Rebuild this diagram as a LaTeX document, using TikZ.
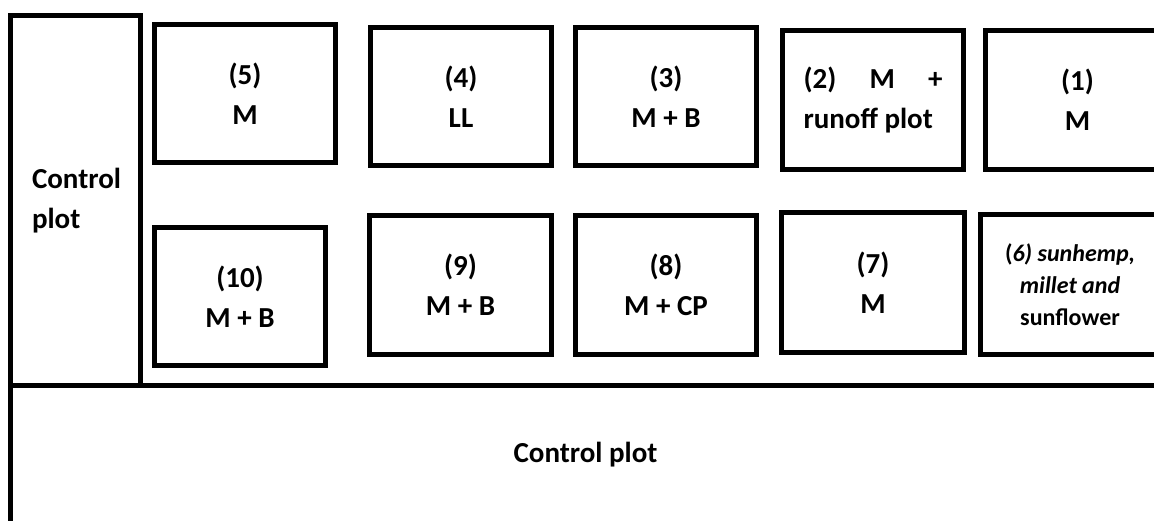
\documentclass[tikz,border=0pt]{standalone}
\usepackage{fontspec}
\setmainfont{Carlito}
\begin{document}
\begin{tikzpicture}[x=0.5pt,y=-0.5pt,
  plotbox/.style={draw=black, line width=2.5pt, fill=white, inner sep=0pt, align=center,
    font=\bfseries\fontsize{14.5}{20}\selectfont},
  plotlabel/.style={inner sep=0pt, align=center, font=\bfseries\fontsize{14.5}{20}\selectfont},
  border/.style={draw=black, line width=2.5pt}]
\useasboundingbox (0,0) rectangle (1154,520);
\clip (0,0) rectangle (1154,520);
\fill[white] (0,0) rectangle (1154,520);
% top row
\node[plotbox, minimum width=90.5pt, minimum height=69pt] (p5) at (245,93.5) {(5)\\M};
\node[plotbox, minimum width=90.5pt, minimum height=69pt] (p4) at (461,96.5) {(4)\\LL};
\node[plotbox, minimum width=90.5pt, minimum height=69pt] (p3) at (666,96.5) {(3)\\M + B};
\node[plotbox, minimum width=90.5pt, minimum height=69.5pt] (p2) at (873,100) {\parbox{69.5pt}{(2)\hfill M\hfill +\\runoff plot}};
\node[plotbox, minimum width=92pt, minimum height=69.5pt] (p1) at (1077.5,100) {(1)\\M};
% bottom row
\node[plotbox, minimum width=85.5pt, minimum height=69pt] (p10) at (240,296.5) {(10)\\M + B};
\node[plotbox, minimum width=91pt, minimum height=69.5pt] (p9) at (460.5,285) {(9)\\M + B};
\node[plotbox, minimum width=90.5pt, minimum height=69.5pt] (p8) at (666,285) {(8)\\M + CP};
\node[plotbox, minimum width=91.5pt, minimum height=70pt] (p7) at (873,282.5) {(7)\\M};
\node[plotbox, minimum width=89.5pt, minimum height=70pt, font=\bfseries\fontsize{12}{16}\selectfont] (p6) at (1070,284.5)
  {(\textit{6) sunhemp,}\\\textit{millet and}\\sunflower};
% control plots
\node[plotbox, minimum width=65pt, minimum height=185pt, fill=none] (cl) at (75.5,200.5) {};
\node[plotlabel, align=left, xshift=0.5pt] (cltext) at (cl.center) {Control\\plot};
\coordinate (bl) at (10.5,530);
\coordinate (tl) at (10.5,385.5);
\coordinate (tr) at (1170,385.5);
\draw[border] (bl) -- (tl) -- (tr);
\node[plotlabel] (cb) at (585.5,455) {Control plot};
\end{tikzpicture}
\end{document}
